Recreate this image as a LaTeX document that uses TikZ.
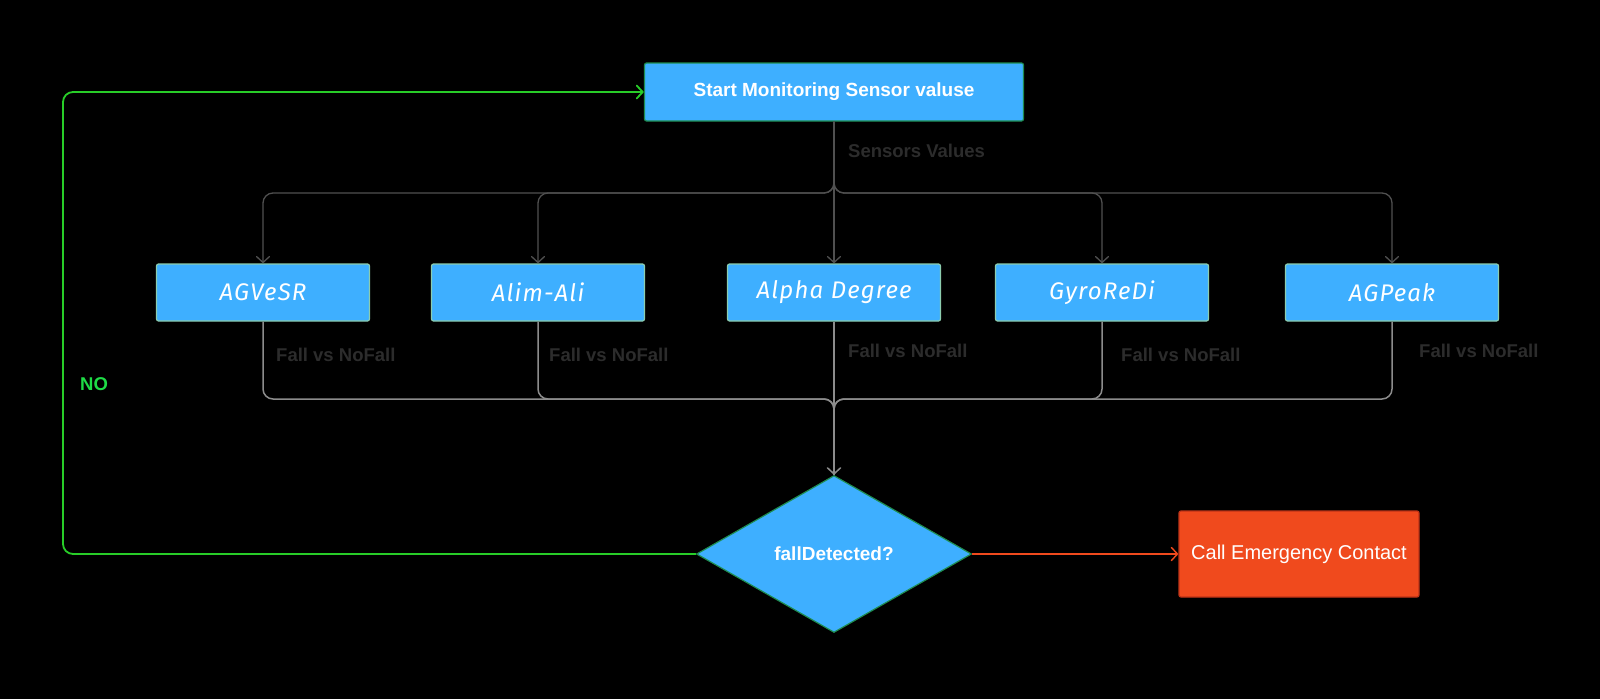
\documentclass[tikz,border=0pt]{standalone}
\usepackage{fontspec}
\setmainfont{Liberation Sans}
\newfontfamily\handfont{Fira Sans}[LetterSpace=5]
\usetikzlibrary{arrows.meta,shapes.geometric}

\definecolor{boxblue}{RGB}{62,175,255}
\definecolor{sensoredge}{RGB}{140,205,175}
\definecolor{deepgreen}{RGB}{30,140,80}
\definecolor{loopgreen}{RGB}{40,205,40}
\definecolor{nogreen}{RGB}{30,220,70}
\definecolor{alertred}{RGB}{240,74,29}
\definecolor{alertedge}{RGB}{190,52,24}
\definecolor{fanout}{RGB}{80,80,80}
\definecolor{fanin}{RGB}{140,140,140}
\definecolor{faint}{RGB}{44,44,44}

\begin{document}
\begin{tikzpicture}[x=1pt,y=-1pt,
  barb/.tip={Straight Barb[length=6pt,width=13pt,line cap=round]},
  headbox/.style={draw=deepgreen,line width=1.2pt,fill=boxblue,rounded corners=2pt,
    minimum width=379pt,minimum height=58pt,inner sep=0pt,text=white,
    font=\fontsize{19}{22}\selectfont\bfseries},
  sensorbox/.style={draw=sensoredge,line width=1.2pt,fill=boxblue,rounded corners=2pt,
    minimum width=213pt,minimum height=57pt,inner sep=0pt,text=white,
    font=\handfont\itshape\fontsize{24}{28}\selectfont},
  decision/.style={diamond,draw=deepgreen,line width=1.2pt,fill=boxblue,
    minimum width=275pt,minimum height=157pt,inner sep=0pt,text=white,
    font=\fontsize{19}{22}\selectfont\bfseries},
  alarmbox/.style={draw=alertedge,line width=1.2pt,fill=alertred,rounded corners=2pt,
    minimum width=240pt,minimum height=86pt,inner sep=0pt,text=white,
    font=\fontsize{20}{24}\selectfont},
  edgelabel/.style={anchor=west,inner sep=0pt,text=faint,
    font=\fontsize{18.5}{22}\selectfont\bfseries},
  spread/.style={draw=fanout,line width=1.3pt,rounded corners=10pt},
  gather/.style={draw=fanin,line width=1.5pt,rounded corners=10pt},
]
% canvas
\fill[black] (0,0) rectangle (1600,699);
\useasboundingbox (0,0) rectangle (1600,699);

% nodes
\node[headbox] (top) at (834,92) {Start Monitoring Sensor valuse};
\node[sensorbox] (s1) at (263,292.5) {AGVeSR};
\node[sensorbox] (s2) at (538,292.5) {Alim-Ali};
\node[sensorbox] (s3) at (834,292.5) {Alpha Degree};
\node[sensorbox] (s4) at (1102,292.5) {GyroReDi};
\node[sensorbox] (s5) at (1392,292.5) {AGPeak};
\node[decision] (dia) at (834,554) {fallDetected?};
\node[alarmbox] (alarm) at (1299,554) {Call Emergency Contact};

% routing points
\coordinate (fork) at (834,193);
\coordinate (merge) at (834,399);
\coordinate (loopbot) at (63,554);
\coordinate (looptop) at (63,92);

% fan-out of sensor values
\draw[spread,-barb] (top.south) -- (fork) -| (s1.north);
\draw[spread,-barb] (top.south) -- (fork) -| (s2.north);
\draw[spread,-barb] (top.south) -- (fork) -| (s4.north);
\draw[spread,-barb] (top.south) -- (fork) -| (s5.north);
\draw[spread,-barb] (top.south) -- (s3.north);
\node[edgelabel] (lsv) at (848,151) {Sensors Values};

% fan-in of classifier outputs
\draw[gather] (s1.south) |- (merge) -- (dia.north);
\draw[gather] (s2.south) |- (merge) -- (dia.north);
\draw[gather] (s4.south) |- (merge) -- (dia.north);
\draw[gather] (s5.south) |- (merge) -- (dia.north);
\draw[gather,-barb] (s3.south) -- (dia.north);
\node[edgelabel] (l1) at (276,355) {Fall vs NoFall};
\node[edgelabel] (l2) at (549,355) {Fall vs NoFall};
\node[edgelabel] (l3) at (848,351) {Fall vs NoFall};
\node[edgelabel] (l4) at (1121,355) {Fall vs NoFall};
\node[edgelabel] (l5) at (1419,351) {Fall vs NoFall};

% decision outcomes
\draw[alertred,line width=1.4pt,-barb] (dia.east) -- (alarm.west);
\draw[loopgreen,line width=1.8pt,rounded corners=10pt,-barb]
  (dia.west) -- (loopbot) -- (looptop) -- (top.west);
\node[anchor=west,inner sep=0pt,text=nogreen,font=\fontsize{18.5}{22}\selectfont\bfseries]
  (no) at (80,384) {NO};
\end{tikzpicture}
\end{document}
